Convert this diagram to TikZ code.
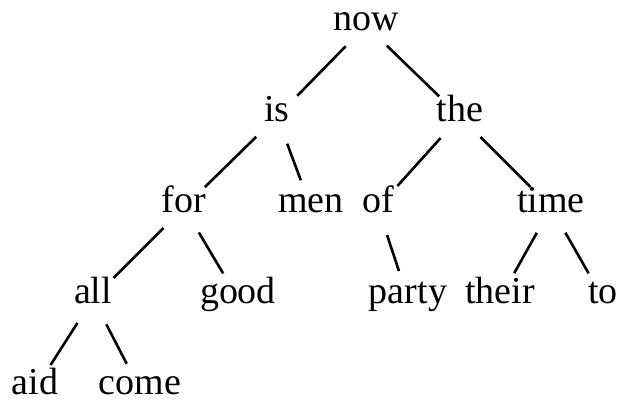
\documentclass[tikz,border=0pt]{standalone}
\usepackage{fontspec}
\setmainfont{Liberation Serif}
\usepackage{tikz}

\begin{document}
\begin{tikzpicture}[
    word/.style={inner sep=0pt, text height=0.7em, text depth=0.2em, font=\fontsize{19}{22}\selectfont},
    branch/.style={draw, line width=1.3pt, shorten <=14.5pt, shorten >=14.5pt},
    node distance=45.5pt
]
    \useasboundingbox (0pt,0pt) rectangle (309pt,-203.5pt);

    \node (now) [word] at (183pt,-12.75pt) {now};
    \node (is) [word, below of=now, xshift=-44.5pt] {is};
    \node (the) [word, below of=now, xshift=47pt] {the};
    \node (for) [word, below of=is, xshift=-46.5pt] {for};
    \node (men) [word, below of=is, xshift=17pt] {men};
    \node (of) [word, below of=the, xshift=-41pt] {of};
    \node (time) [word, below of=the, xshift=45.5pt] {time};
    \node (all) [word, below of=for, xshift=-45.5pt] {all};
    \node (good) [word, below of=for, xshift=27pt] {good};
    \node (party) [word, below of=of, xshift=15pt] {party};
    \node (their) [word, below of=time, xshift=-25.5pt] {their};
    \node (to) [word, below of=time, xshift=26pt] {to};
    \node (aid) [word, below of=all, xshift=-29pt] {aid};
    \node (come) [word, below of=all, xshift=23.5pt] {come};

    \path [branch] (now.center) -- (is.center);
    \path [branch] (now.center) -- (the.center);
    \path [branch] (is.center) -- (for.center);
    \path [branch] (is.center) -- (men.center);
    \path [branch] (the.center) -- (of.center);
    \path [branch] (the.center) -- (time.center);
    \path [branch] (for.center) -- (all.center);
    \path [branch] (for.center) -- (good.center);
    \path [branch] (of.center) -- (party.center);
    \path [branch] (time.center) -- (their.center);
    \path [branch] (time.center) -- (to.center);
    \path [branch] (all.center) -- (aid.center);
    \path [branch] (all.center) -- (come.center);
\end{tikzpicture}
\end{document}
